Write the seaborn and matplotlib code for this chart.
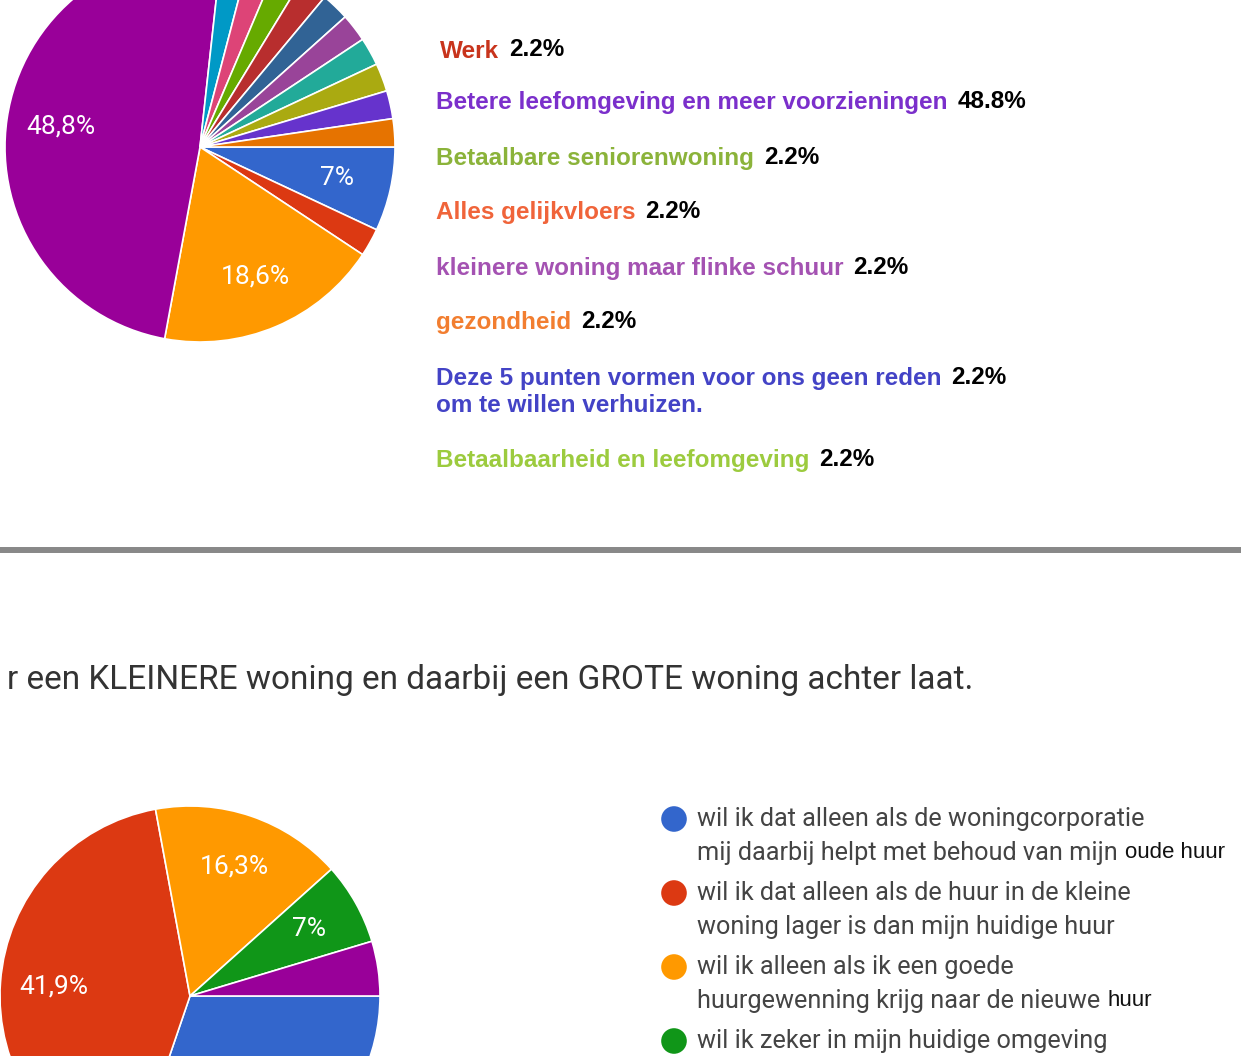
import matplotlib
matplotlib.use("Agg")
import matplotlib.pyplot as plt
import seaborn as sns

sns.set_theme(style="white")
plt.rcParams['font.family'] = ['Roboto', 'DejaVu Sans']

W, H = 1241, 1056

# bovenste taart: aantallen per antwoord (43 reacties), google volgorde
top_counts = [3, 1, 8, 21, 1, 1, 1, 1, 1, 1, 1, 1, 1, 1]
top_colors = ["#3366CC", "#DC3912", "#FF9900", "#990099", "#0099C6", "#DD4477",
              "#66AA00", "#B82E2E", "#316395", "#994499", "#22AA99", "#AAAA11",
              "#6633CC", "#E67300"]

# toegevoegde gekleurde labels naast de bovenste taart
top_names = ["Werk",
             "Betere leefomgeving en meer voorzieningen",
             "Betaalbare seniorenwoning",
             "Alles gelijkvloers",
             "kleinere woning maar flinke schuur",
             "gezondheid",
             "Deze 5 punten vormen voor ons geen reden\nom te willen verhuizen.",
             "Betaalbaarheid en leefomgeving"]
top_pcts = ["2.2%", "48.8%", "2.2%", "2.2%", "2.2%", "2.2%", "2.2%", "2.2%"]
top_name_colors = ["#C8341C", "#7B2FCB", "#8BB33A", "#F0643A", "#A452B2",
                   "#F27E30", "#4343C6", "#9CCB3E"]

# onderste taart
bottom_title = "r een KLEINERE woning en daarbij een GROTE woning achter laat."
bottom_counts = [13, 18, 7, 3, 2]
bottom_colors = ["#3366CC", "#DC3912", "#FF9900", "#109618", "#990099"]
bottom_names = ["wil ik dat alleen als de woningcorporatie\nmij daarbij helpt met behoud van mijn",
                "wil ik dat alleen als de huur in de kleine\nwoning lager is dan mijn huidige huur",
                "wil ik alleen als ik een goede\nhuurgewenning krijg naar de nieuwe",
                "wil ik zeker in mijn huidige omgeving"]
# later erbij getypte woorden (zwart) aan het eind van de tweede regel
bottom_tails = ["oude huur", "", "huur", ""]


def google_pct(p):
    if p < 5:
        return ""
    s = f"{p:.1f}".replace(".", ",")
    if s.endswith(",0"):
        s = s[:-2]
    return s + "%"


def px_axes(fig, cx, cy, r):
    # as-box in pixels rond het middelpunt van de taart
    return fig.add_axes([(cx - r) / W, (H - cy - r) / H, 2 * r / W, 2 * r / H])


def draw_pie(ax, counts, colors, cy, r):
    _, _, autotexts = ax.pie(counts, colors=colors, startangle=0, counterclock=False,
                             autopct=google_pct, pctdistance=0.72,
                             wedgeprops=dict(edgecolor="white", linewidth=1.2),
                             textprops=dict(color="white", fontsize=19))
    ax.set_xlim(-1, 1)
    ax.set_ylim(-1, 1)
    ax.set_aspect("auto")
    ax.axis("off")
    # labels die buiten de schermafdruk vallen niet tonen
    y_min = -(H - cy) / r
    y_max = cy / r
    for t in autotexts:
        y = t.get_position()[1]
        if y < y_min or y > y_max:
            t.set_visible(False)


fig = plt.figure(figsize=(W / 100, H / 100), dpi=100)
fig.patch.set_facecolor("white")

ax1 = px_axes(fig, 200, 147, 195)
draw_pie(ax1, top_counts, top_colors, 147, 195)

ax2 = px_axes(fig, 190, 996, 190)
draw_pie(ax2, bottom_counts, bottom_colors, 996, 190)

# laag voor tekst, in pixels
ov = fig.add_axes([0, 0, 1, 1], facecolor="none")
ov.set_xlim(0, W)
ov.set_ylim(H, 0)
ov.axis("off")

renderer = fig.canvas.get_renderer()
label_y = [51, 102, 158, 213, 268, 323, 378, 461]
for i, (name, pct, col) in enumerate(zip(top_names, top_pcts, top_name_colors)):
    x0 = 440 if i == 0 else 436
    lines = name.split("\n")
    t = ov.text(x0, label_y[i], lines[0], color=col, fontsize=17.5, fontweight="bold",
                family="Liberation Sans", va="center", ha="left")
    bb = t.get_window_extent(renderer)
    ov.text(bb.x1 + 10, label_y[i] - 1, pct, color="black", fontsize=17.5, fontweight="bold",
            family="Liberation Sans", va="center", ha="left")
    for j, extra in enumerate(lines[1:]):
        ov.text(x0, label_y[i] + 28 * (j + 1), extra, color=col, fontsize=17.5,
                fontweight="bold", family="Liberation Sans", va="center", ha="left")

# scheidingslijn
ov.axhline(550, color="#888888", lw=4.3)

# titel onderste vraag
ov.text(973, 680, bottom_title, color="#333333", fontsize=24, ha="right", va="center")

# legenda onderste taart
for i, name in enumerate(bottom_names):
    y = 819 + 74 * i
    ov.scatter([674], [y], s=340, color=bottom_colors[i], edgecolors="none")
    lines = name.split("\n")
    for j, line in enumerate(lines):
        t = ov.text(697, y + 34 * j, line, color="#444444", fontsize=18.2,
                    va="center", ha="left")
        if j == len(lines) - 1 and bottom_tails[i]:
            bb = t.get_window_extent(renderer)
            ov.text(bb.x1 + 7, y + 34 * j, bottom_tails[i], color="#111111", fontsize=16,
                    family="Liberation Sans", va="center", ha="left")

fig.savefig("out.png", dpi=100, facecolor="white")
